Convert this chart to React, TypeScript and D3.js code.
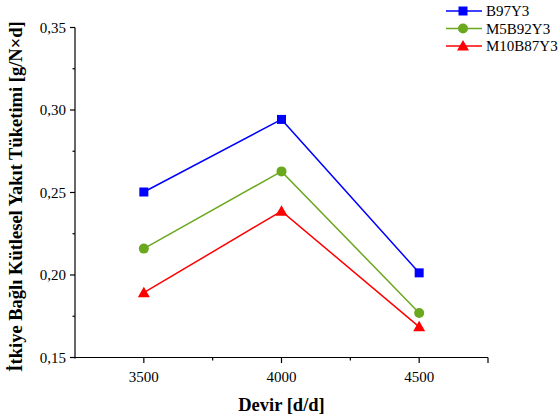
import React from "react";
import * as d3 from "d3";

const categories = [3500, 4000, 4500];
const seriesNames = ["B97Y3", "M5B92Y3", "M10B87Y3"];
const b97y3 = [0.2503, 0.2943, 0.2013];
const m5b92y3 = [0.2160, 0.2628, 0.1770];
const m10b87y3 = [0.1893, 0.2387, 0.1686];
const yTicks = [0.15, 0.2, 0.25, 0.3, 0.35];
const xTicks = [3500, 4000, 4500];

const W = 558, H = 419;
const colors = ["#0000ff", "#6aa81e", "#ff0000"];
const shapes = ["square", "circle", "triangle"];

function Marker({ shape, x, y, color }: { shape: string; x: number; y: number; color: string }) {
  if (shape === "square") return <rect x={x - 4.5} y={y - 4.5} width={9} height={9} fill={color} />;
  if (shape === "circle") return <circle cx={x} cy={y} r={5} fill={color} />;
  return <path d={`M${x},${y - 6} L${x + 6},${y + 4.5} L${x - 6},${y + 4.5} Z`} fill={color} />;
}

export default function App() {
  const x = d3.scaleLinear().domain([3250, 4750]).range([75, 488]);
  const y = d3.scaleLinear().domain([0.15, 0.35]).range([357.5, 27.5]);
  const series = [b97y3, m5b92y3, m10b87y3];
  const line = d3.line<number>().x((_, i) => x(categories[i])).y((d) => y(d));
  const fmt = (v: number) => v.toFixed(2).replace(".", ",");
  const yMinor = d3.range(0.175, 0.35, 0.05);
  const xMinor = [3750, 4250];
  const font = "Liberation Serif, DejaVu Serif, serif";
  return (
    <svg width={W} height={H} style={{ position: "absolute", left: 0, top: 0, background: "#fff", fontFamily: font }}>
      <rect width={W} height={H} fill="#fff" />
      <line x1={75} y1={y(0.35)} x2={75} y2={358.5} stroke="#000" strokeWidth={1.2} />
      <line x1={74.5} y1={357.5} x2={488} y2={357.5} stroke="#000" strokeWidth={1.2} />
      {yTicks.map((t) => (
        <g key={t}>
          <line x1={70} x2={75} y1={y(t)} y2={y(t)} stroke="#000" strokeWidth={1.2} />
          <text x={66} y={y(t)} dy="0.35em" textAnchor="end" fontSize={15} style={{ fontFamily: font }}>{fmt(t)}</text>
        </g>
      ))}
      {yMinor.map((t) => (
        <line key={t} x1={72.5} x2={75} y1={y(t)} y2={y(t)} stroke="#000" strokeWidth={1.2} />
      ))}
      {xTicks.map((t) => (
        <g key={t}>
          <line x1={x(t)} x2={x(t)} y1={357.5} y2={363} stroke="#000" strokeWidth={1.2} />
          <text x={x(t)} y={382} textAnchor="middle" fontSize={15} style={{ fontFamily: font }}>{t}</text>
        </g>
      ))}
      {xMinor.map((t) => (
        <line key={t} x1={x(t)} x2={x(t)} y1={357.5} y2={360.5} stroke="#000" strokeWidth={1.2} />
      ))}
      <line x1={488} x2={488} y1={357.5} y2={363} stroke="#000" strokeWidth={1.2} />
      <text x={x(4000)} y={411} textAnchor="middle" fontSize={18.5} fontWeight="bold" style={{ fontFamily: font }}>Devir [d/d]</text>
      <text transform={`translate(22,${y(0.25) + 4}) rotate(-90)`} textAnchor="middle" fontSize={18.5} fontWeight="bold" style={{ fontFamily: font }}>
        İtkiye Bağlı Kütlesel Yakıt Tüketimi [g/N×d]
      </text>
      {series.map((s, si) => (
        <g key={si}>
          <path d={line(s) || ""} fill="none" stroke={colors[si]} strokeWidth={1.5} />
          {s.map((v, i) => (
            <Marker key={i} shape={shapes[si]} x={x(categories[i])} y={y(v)} color={colors[si]} />
          ))}
        </g>
      ))}
      {seriesNames.map((n, i) => {
        const ly = 11 + i * 17.5;
        return (
          <g key={n}>
            <line x1={446} x2={482} y1={ly} y2={ly} stroke={colors[i]} strokeWidth={1.5} />
            <Marker shape={shapes[i]} x={463} y={ly} color={colors[i]} />
            <text x={486} y={ly} dy="0.35em" fontSize={15} style={{ fontFamily: font }}>{n}</text>
          </g>
        );
      })}
    </svg>
  );
}
